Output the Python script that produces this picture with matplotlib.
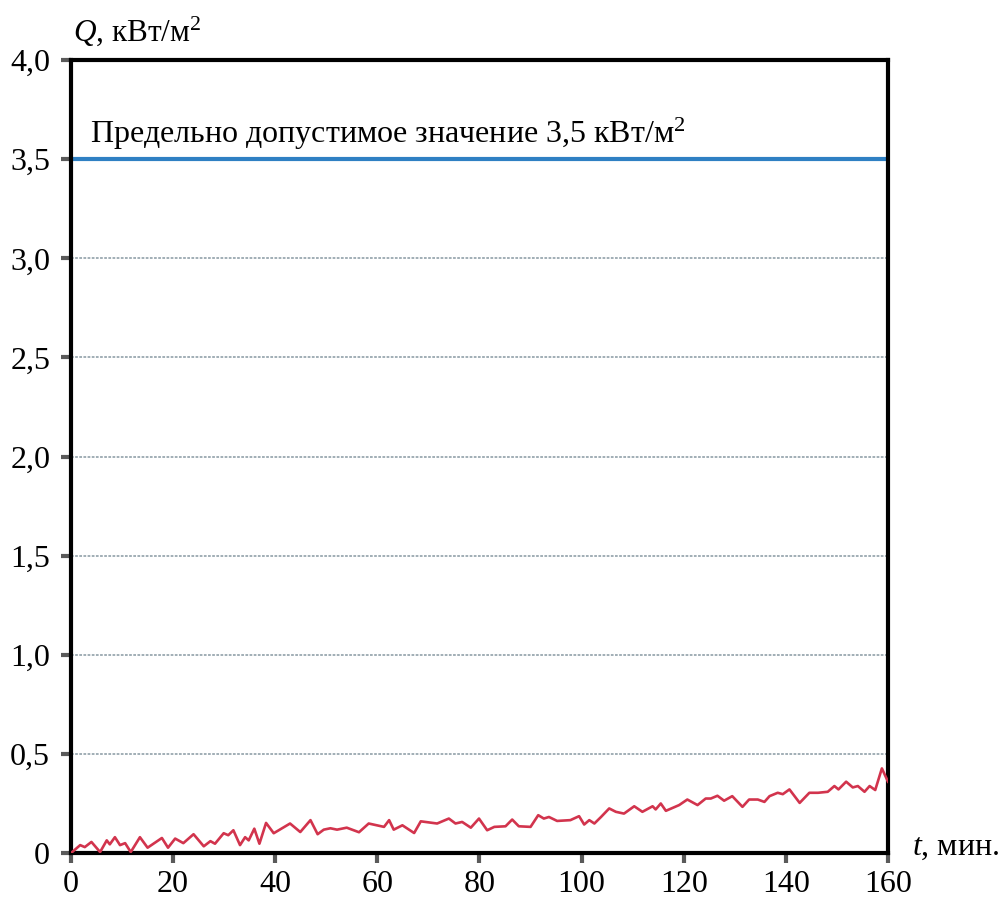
import matplotlib
matplotlib.use("Agg")
import matplotlib.pyplot as plt

plt.rcParams['font.family'] = ['Liberation Serif', 'DejaVu Serif']
plt.rcParams['mathtext.fontset'] = 'custom'
plt.rcParams['mathtext.rm'] = 'Liberation Serif'
plt.rcParams['mathtext.it'] = 'Liberation Serif:italic'

t_min = [0, 1.8, 2.7, 4, 5.7, 7, 7.6, 8.6, 9.6, 10.6, 11.7, 13.5, 15, 17.8, 19, 20.4, 22, 24, 26,
         27.3, 28.2, 29.9, 30.8, 31.8, 33.1, 34.1, 34.8, 35.9, 36.9, 38.2, 39.7, 42.9, 44.9, 46.9,
         48.3, 49.5, 50.8, 52.1, 54, 56.4, 58.3, 61.3, 62.3, 63.2, 64.9, 67.2, 68.5, 71.7, 74,
         75.3, 76.6, 78.3, 79.9, 81.5, 82.9, 85.1, 86.4, 87.7, 90, 91.5, 92.6, 93.6, 95.2, 97.8,
         99.5, 100.5, 101.5, 102.5, 103.8, 105.4, 106.7, 108.3, 110.3, 111.9, 113.9, 114.5, 115.5,
         116.5, 119.1, 120.7, 122.7, 124.3, 125.3, 126.6, 127.9, 129.5, 131.5, 132.8, 134.5,
         135.8, 136.8, 138.4, 139.4, 140.7, 142.7, 144.6, 146.3, 148.2, 149.5, 150.3, 151.8,
         153.1, 154.1, 155.4, 156.4, 157.5, 158.8, 160]
q_kw = [0, 0.04, 0.03, 0.056, 0.005, 0.064, 0.044, 0.08, 0.04, 0.05, 0.005, 0.08, 0.027, 0.076,
        0.027, 0.073, 0.05, 0.095, 0.034, 0.06, 0.047, 0.1, 0.09, 0.115, 0.04, 0.08, 0.064, 0.123,
        0.047, 0.152, 0.1, 0.149, 0.106, 0.166, 0.095, 0.118, 0.125, 0.118, 0.128, 0.105, 0.149,
        0.132, 0.166, 0.118, 0.14, 0.101, 0.16, 0.149, 0.174, 0.149, 0.157, 0.128, 0.174, 0.115,
        0.132, 0.135, 0.169, 0.135, 0.132, 0.191, 0.174, 0.182, 0.162, 0.166, 0.186, 0.144, 0.166,
        0.149, 0.182, 0.225, 0.208, 0.199, 0.236, 0.208, 0.236, 0.22, 0.25, 0.213, 0.242, 0.27,
        0.242, 0.275, 0.275, 0.289, 0.264, 0.287, 0.233, 0.27, 0.27, 0.258, 0.287, 0.304, 0.297,
        0.321, 0.253, 0.304, 0.304, 0.309, 0.338, 0.321, 0.36, 0.331, 0.338, 0.309, 0.338, 0.318,
        0.427, 0.36]

limit_value = 3.5
x_ticks = [0, 20, 40, 60, 80, 100, 120, 140, 160]
y_ticks = [0, 0.5, 1.0, 1.5, 2.0, 2.5, 3.0, 3.5, 4.0]
y_tick_labels = ['0', '0,5', '1,0', '1,5', '2,0', '2,5', '3,0', '3,5', '4,0']
grid_levels = [0.5, 1.0, 1.5, 2.0, 2.5, 3.0]

fig = plt.figure(figsize=(10, 8.97), dpi=100)
ax = fig.add_axes([0.071, 0.049, 0.817, 0.884])

for g in grid_levels:
    ax.axhline(g, color='#9aa8b0', lw=1.3, ls=(0, (1.5, 0.8)), zorder=1)

ax.axhline(limit_value, color='#2f80c3', lw=3, zorder=2)
ax.plot(t_min, q_kw, color='#d2344d', lw=1.9, zorder=3)

ax.set_xlim(0, 160)
ax.set_ylim(0, 4.0)
ax.set_xticks(x_ticks)
ax.set_yticks(y_ticks)
ax.set_yticklabels(y_tick_labels)
ax.tick_params(axis='both', labelsize=23, length=7, width=3, color='#5a5a5a')
ax.tick_params(axis='x', pad=5)
ax.tick_params(axis='y', pad=8)

for s in ax.spines.values():
    s.set_linewidth(3)
    s.set_color('black')

ax.text(3.7, 3.582, 'Предельно допустимое значение 3,5 кВт/м$^2$', fontsize=23,
        ha='left', va='baseline')
fig.text(0.073, 0.955, '$Q$, кВт/м$^2$', fontsize=22.5, ha='left', va='baseline')
fig.text(0.912, 0.047, '$t$, мин.', fontsize=23, ha='left', va='baseline')

fig.savefig('out.png', dpi=100, facecolor='white')
